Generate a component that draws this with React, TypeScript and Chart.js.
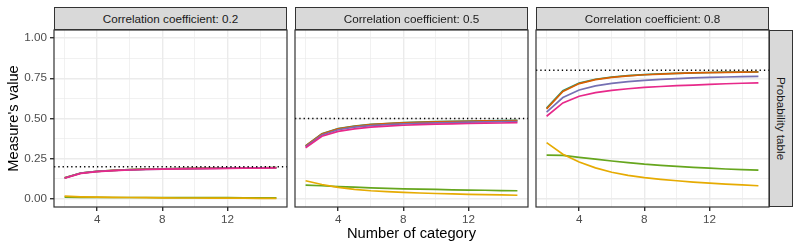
import React, { useEffect, useRef } from "react";
import { Chart, registerables } from "chart.js";

Chart.register(...registerables);

// ---------- data ----------
const categories = [2, 3, 4, 5, 6, 7, 8, 9, 10, 11, 12, 13, 14, 15];
const correlations = [0.2, 0.5, 0.8];
const stripLabels = [
  "Correlation coefficient: 0.2",
  "Correlation coefficient: 0.5",
  "Correlation coefficient: 0.8",
];
const rowStripLabel = "Probability table";
const xTitle = "Number of category";
const yTitle = "Measure's value";
const xTickValues = [2, 4, 6, 8, 10, 12, 14];
const yTickValues = [0, 0.125, 0.25, 0.375, 0.5, 0.625, 0.75, 0.875, 1];
const seriesColors = ["#1B9E77", "#D95F02", "#7570B3", "#E7298A", "#66A61E", "#E6AB02"];

// correlation 0.2
const tealR02 = [0.131, 0.161, 0.172, 0.178, 0.182, 0.185, 0.187, 0.189, 0.190, 0.191, 0.192, 0.193, 0.194, 0.195];
const orangeR02 = [0.131, 0.161, 0.172, 0.178, 0.182, 0.185, 0.187, 0.189, 0.190, 0.191, 0.192, 0.193, 0.194, 0.195];
const purpleR02 = [0.130, 0.160, 0.171, 0.177, 0.181, 0.184, 0.186, 0.188, 0.189, 0.190, 0.191, 0.192, 0.193, 0.194];
const pinkR02 = [0.129, 0.159, 0.170, 0.176, 0.180, 0.183, 0.185, 0.187, 0.188, 0.189, 0.190, 0.191, 0.192, 0.193];
const greenR02 = [0.011, 0.010, 0.010, 0.009, 0.009, 0.009, 0.008, 0.008, 0.008, 0.008, 0.008, 0.007, 0.007, 0.007];
const yellowR02 = [0.017, 0.013, 0.011, 0.010, 0.009, 0.008, 0.007, 0.006, 0.006, 0.005, 0.005, 0.005, 0.004, 0.004];

// correlation 0.5
const tealR05 = [0.330, 0.405, 0.437, 0.453, 0.463, 0.469, 0.474, 0.477, 0.480, 0.482, 0.484, 0.486, 0.487, 0.488];
const orangeR05 = [0.329, 0.404, 0.436, 0.452, 0.462, 0.468, 0.473, 0.476, 0.479, 0.481, 0.483, 0.485, 0.486, 0.487];
const purpleR05 = [0.325, 0.398, 0.430, 0.446, 0.456, 0.462, 0.467, 0.470, 0.473, 0.475, 0.477, 0.479, 0.480, 0.481];
const pinkR05 = [0.318, 0.390, 0.420, 0.436, 0.446, 0.453, 0.458, 0.462, 0.465, 0.467, 0.469, 0.471, 0.472, 0.474];
const greenR05 = [0.086, 0.082, 0.077, 0.073, 0.069, 0.066, 0.063, 0.061, 0.059, 0.057, 0.055, 0.054, 0.052, 0.051];
const yellowR05 = [0.113, 0.090, 0.072, 0.060, 0.051, 0.045, 0.041, 0.037, 0.034, 0.031, 0.029, 0.027, 0.025, 0.023];

// correlation 0.8
const tealR08 = [0.565, 0.672, 0.720, 0.744, 0.758, 0.767, 0.773, 0.778, 0.781, 0.784, 0.786, 0.788, 0.789, 0.790];
const orangeR08 = [0.560, 0.668, 0.717, 0.742, 0.756, 0.765, 0.772, 0.776, 0.780, 0.783, 0.785, 0.787, 0.788, 0.789];
const purpleR08 = [0.540, 0.630, 0.677, 0.703, 0.718, 0.729, 0.737, 0.743, 0.748, 0.752, 0.755, 0.758, 0.760, 0.762];
const pinkR08 = [0.514, 0.597, 0.638, 0.661, 0.675, 0.685, 0.693, 0.699, 0.704, 0.708, 0.712, 0.716, 0.719, 0.722];
const greenR08 = [0.272, 0.271, 0.258, 0.247, 0.236, 0.226, 0.216, 0.209, 0.202, 0.196, 0.191, 0.186, 0.182, 0.179];
const yellowR08 = [0.350, 0.278, 0.230, 0.193, 0.166, 0.147, 0.133, 0.122, 0.113, 0.105, 0.098, 0.092, 0.087, 0.082];

const panelSeries = [
  [tealR02, orangeR02, purpleR02, pinkR02, greenR02, yellowR02],
  [tealR05, orangeR05, purpleR05, pinkR05, greenR05, yellowR05],
  [tealR08, orangeR08, purpleR08, pinkR08, greenR08, yellowR08],
];

// ---------- layout ----------
const FONT = "'Liberation Sans', Arial, Helvetica, sans-serif";
const X_MIN = 1.35;
const X_MAX = 15.65;
const Y_MIN = -0.05;
const Y_MAX = 1.05;

const panelLayout = [
  { canvasLeft: 0, canvasWidth: 290, padLeft: 0, yWidth: 54 },
  { canvasLeft: 290, canvasWidth: 241, padLeft: 5, yWidth: 0 },
  { canvasLeft: 531, canvasWidth: 241, padLeft: 5, yWidth: 0 },
];

const isMajorX = (v: number) => Math.abs(v % 4) < 1e-9;
const isMajorY = (v: number) => Math.abs(v * 4 - Math.round(v * 4)) < 1e-9;

const borderPlugin = {
  id: "panelBorder",
  afterDatasetsDraw(chart: any) {
    const { ctx, chartArea } = chart;
    const { left, top, right, bottom } = chartArea;
    ctx.save();
    ctx.strokeStyle = "#333333";
    ctx.lineWidth = 1.2;
    ctx.strokeRect(left, top, right - left, bottom - top);
    ctx.restore();
  },
};

function Panel({ index }: { index: number }) {
  const ref = useRef<HTMLCanvasElement | null>(null);
  const lay = panelLayout[index];
  const first = index === 0;
  const middle = index === 1;

  useEffect(() => {
    if (!ref.current) return;
    const series = panelSeries[index];
    const lineSets = series.map((vals, i) => ({
      label: "Series " + (i + 1),
      data: categories.map((c, j) => ({ x: c, y: vals[j] })),
      borderColor: seriesColors[i],
      backgroundColor: seriesColors[i],
      borderWidth: 1.7,
      pointRadius: 0,
      tension: 0,
      fill: false,
    }));
    const refLine = {
      label: "Reference",
      data: [
        { x: X_MIN, y: correlations[index] },
        { x: X_MAX, y: correlations[index] },
      ],
      borderColor: "#000000",
      backgroundColor: "#000000",
      borderWidth: 1.3,
      borderDash: [1.3, 3],
      pointRadius: 0,
      fill: false,
    };
    // Chart.js draws the first dataset on top, so reverse ggplot's order
    const datasets = [refLine, ...lineSets.slice().reverse()];

    const chart = new Chart(ref.current, {
      type: "line",
      data: { datasets },
      plugins: [borderPlugin],
      options: {
        animation: false,
        responsive: false,
        devicePixelRatio: 1,
        layout: { padding: { left: lay.padLeft, right: 3, top: 30, bottom: 0 } },
        plugins: { legend: { display: false }, tooltip: { enabled: false } },
        scales: {
          x: {
            type: "linear",
            min: X_MIN,
            max: X_MAX,
            afterBuildTicks: (s: any) => {
              s.ticks = xTickValues.map((v) => ({ value: v }));
            },
            afterFit: (s: any) => {
              s.height = 43;
            },
            ticks: {
              autoSkip: false,
              maxRotation: 0,
              minRotation: 0,
              padding: 2,
              color: "#4D4D4D",
              font: { family: FONT, size: 11.7 },
              callback: (v: any) => (isMajorX(Number(v)) ? String(v) : ""),
            },
            grid: {
              color: "#EBEBEB",
              lineWidth: (ctx: any) => (ctx.tick && isMajorX(ctx.tick.value) ? 1.4 : 0.7),
              tickColor: (ctx: any) => (ctx.tick && isMajorX(ctx.tick.value) ? "#333333" : "rgba(0,0,0,0)"),
              tickLength: 4,
              drawTicks: true,
            },
            border: { display: false },
            title: {
              display: middle,
              text: xTitle,
              color: "#000000",
              font: { family: FONT, size: 14.7 },
              padding: { top: 0, bottom: 7 },
            },
          },
          y: {
            type: "linear",
            min: Y_MIN,
            max: Y_MAX,
            afterBuildTicks: (s: any) => {
              s.ticks = yTickValues.map((v) => ({ value: v }));
            },
            afterFit: (s: any) => {
              s.width = lay.yWidth;
            },
            ticks: {
              display: first,
              autoSkip: false,
              padding: 3,
              color: "#4D4D4D",
              font: { family: FONT, size: 11.7 },
              callback: (v: any) => (isMajorY(Number(v)) ? Number(v).toFixed(2) : ""),
            },
            grid: {
              color: "#EBEBEB",
              lineWidth: (ctx: any) => (ctx.tick && isMajorY(ctx.tick.value) ? 1.4 : 0.7),
              tickColor: (ctx: any) => (ctx.tick && isMajorY(ctx.tick.value) ? "#333333" : "rgba(0,0,0,0)"),
              tickLength: 4,
              drawTicks: first,
            },
            border: { display: false },
            title: {
              display: first,
              text: yTitle,
              color: "#000000",
              font: { family: FONT, size: 14.7 },
              padding: { top: 5, bottom: 0 },
            },
          },
        },
      } as any,
    });
    return () => chart.destroy();
  }, [index]);

  return (
    <canvas
      ref={ref}
      width={lay.canvasWidth}
      height={250}
      style={{ position: "absolute", left: lay.canvasLeft, top: 0, width: lay.canvasWidth, height: 250 }}
    />
  );
}

const panelLefts = [54, 295, 536];
const panelWidth = 233;

export default function App() {
  return (
    <div
      style={{
        position: "absolute",
        left: 0,
        top: 0,
        width: 800,
        height: 250,
        background: "#ffffff",
        overflow: "hidden",
        fontFamily: FONT,
      }}
    >
      {[0, 1, 2].map((i) => (
        <Panel key={i} index={i} />
      ))}
      {stripLabels.map((label, i) => (
        <div
          key={label}
          style={{
            position: "absolute",
            left: panelLefts[i],
            top: 7,
            width: panelWidth,
            height: 23,
            boxSizing: "border-box",
            background: "#D9D9D9",
            border: "1.2px solid #333333",
            display: "flex",
            alignItems: "center",
            justifyContent: "center",
            fontSize: 11.7,
            color: "#1A1A1A",
            whiteSpace: "nowrap",
          }}
        >
          {label}
        </div>
      ))}
      <div
        style={{
          position: "absolute",
          left: 769,
          top: 30,
          width: 24,
          height: 177,
          boxSizing: "border-box",
          background: "#D9D9D9",
          border: "1.2px solid #333333",
          display: "flex",
          alignItems: "center",
          justifyContent: "center",
          fontSize: 11.7,
          color: "#1A1A1A",
          whiteSpace: "nowrap",
        }}
      >
        <span style={{ writingMode: "vertical-rl" }}>{rowStripLabel}</span>
      </div>
    </div>
  );
}
